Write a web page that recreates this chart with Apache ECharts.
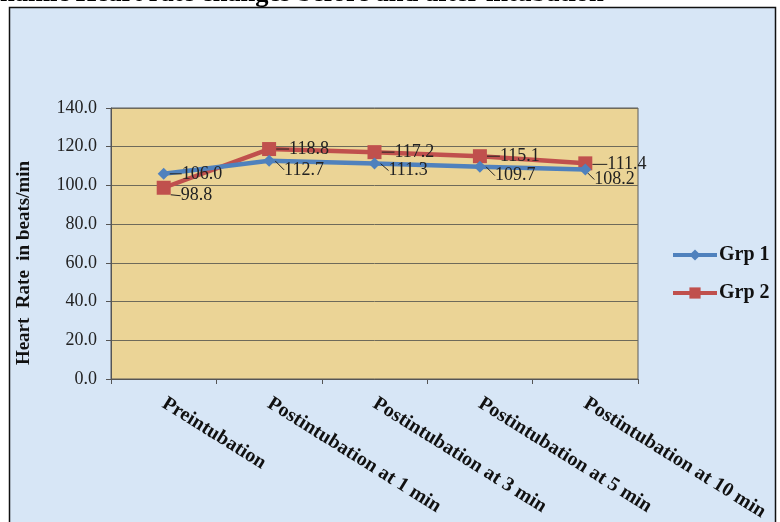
<!DOCTYPE html>
<html>
<head>
<meta charset="utf-8">
<script src="https://cdn.jsdelivr.net/npm/echarts@6/dist/echarts.min.js"></script>
<style>html,body{margin:0;padding:0;background:#fff;}#c{width:780px;height:522px;}</style>
</head>
<body>
<div id="c"></div>
<script>
const categories = ['Preintubation', 'Postintubation at 1 min', 'Postintubation at 3 min', 'Postintubation at 5 min', 'Postintubation at 10 min'];
const grp1 = [106.0, 112.7, 111.3, 109.7, 108.2];
const grp2 = [98.8, 118.8, 117.2, 115.1, 111.4];
const yTicks = { min: 0, max: 140, interval: 20 };
const titleText = 'namic Heart rate changes before and after intubation';
const yAxisName = 'Heart  Rate  in beats/min';

const chart = echarts.init(document.getElementById('c'));
const serif = "'Liberation Serif', 'Times New Roman', serif";
const grp1Offsets = [[7, 0], [4, 9], [3, 7], [4, 9], [-2, 10]];
const grp2Offsets = [[5, 8], [8, 0], [8, 0], [8, 0], [10, 1]];

chart.setOption({
  animation: false,
  graphic: [
    { type: 'rect', shape: { x: 9.5, y: 7.5, width: 766, height: 520 }, style: { fill: '#d7e6f6', stroke: '#111', lineWidth: 1.5 }, z: -10 },
    { type: 'text', left: 0, top: -19, style: { text: titleText, font: "bold 26.5px 'Liberation Serif', serif", fill: '#000' }, z: 10 },
    { type: 'text', x: 24, y: 263, rotation: Math.PI / 2, style: { text: yAxisName, font: "bold 19px 'Liberation Serif', serif", fill: '#111', align: 'center', verticalAlign: 'middle' }, z: 10 }
  ],
  grid: { left: 111, top: 108, right: 142, bottom: 143, outerBoundsMode: 'none', containLabel: false, show: true, backgroundColor: '#ebd496', borderColor: '#5a5a5a', borderWidth: 1 },
  legend: {
    orient: 'vertical', left: 666, top: 240, itemWidth: 44, itemHeight: 14, itemGap: 18,
    textStyle: { fontFamily: serif, fontWeight: 'bold', fontSize: 20, color: '#111', padding: [0, 0, 0, -3] },
    lineStyle: { width: 4 },
    data: ['Grp 1', 'Grp 2']
  },
  xAxis: {
    type: 'category', data: categories, boundaryGap: true,
    axisLine: { lineStyle: { color: '#555' } },
    axisTick: { show: true, length: 5, lineStyle: { color: '#555' } },
    axisLabel: { rotate: -32, margin: 23, interval: 0, fontFamily: serif, fontWeight: 'bold', fontSize: 20, color: '#111' }
  },
  yAxis: {
    type: 'value', min: yTicks.min, max: yTicks.max, interval: yTicks.interval,
    axisLine: { show: true, lineStyle: { color: '#555' } },
    axisTick: { show: true, length: 5, lineStyle: { color: '#555' } },
    axisLabel: { margin: 14, fontFamily: serif, fontSize: 18, color: '#222', formatter: v => v.toFixed(1) },
    splitLine: { lineStyle: { color: '#6e6a5a', width: 1 } }
  },
  series: [
    {
      name: 'Grp 1', type: 'line', data: grp1, symbol: 'diamond', symbolSize: 12,
      lineStyle: { color: '#4f81bd', width: 4.5 }, itemStyle: { color: '#4f81bd' },
      label: { show: true, position: 'right', formatter: p => p.value.toFixed(1), fontFamily: serif, fontSize: 18, color: '#222' },
      labelLayout: p => ({ dx: grp1Offsets[p.dataIndex][0], dy: grp1Offsets[p.dataIndex][1] }),
      labelLine: { show: true, lineStyle: { color: '#222', width: 1 } },
      z: 3
    },
    {
      name: 'Grp 2', type: 'line', data: grp2, symbol: 'rect', symbolSize: 14,
      lineStyle: { color: '#c0504d', width: 4.5 }, itemStyle: { color: '#c0504d' },
      label: { show: true, position: 'right', formatter: p => p.value.toFixed(1), fontFamily: serif, fontSize: 18, color: '#222' },
      labelLayout: p => ({ dx: grp2Offsets[p.dataIndex][0], dy: grp2Offsets[p.dataIndex][1] }),
      labelLine: { show: true, lineStyle: { color: '#222', width: 1 } },
      z: 2
    }
  ]
});
</script>
</body>
</html>
